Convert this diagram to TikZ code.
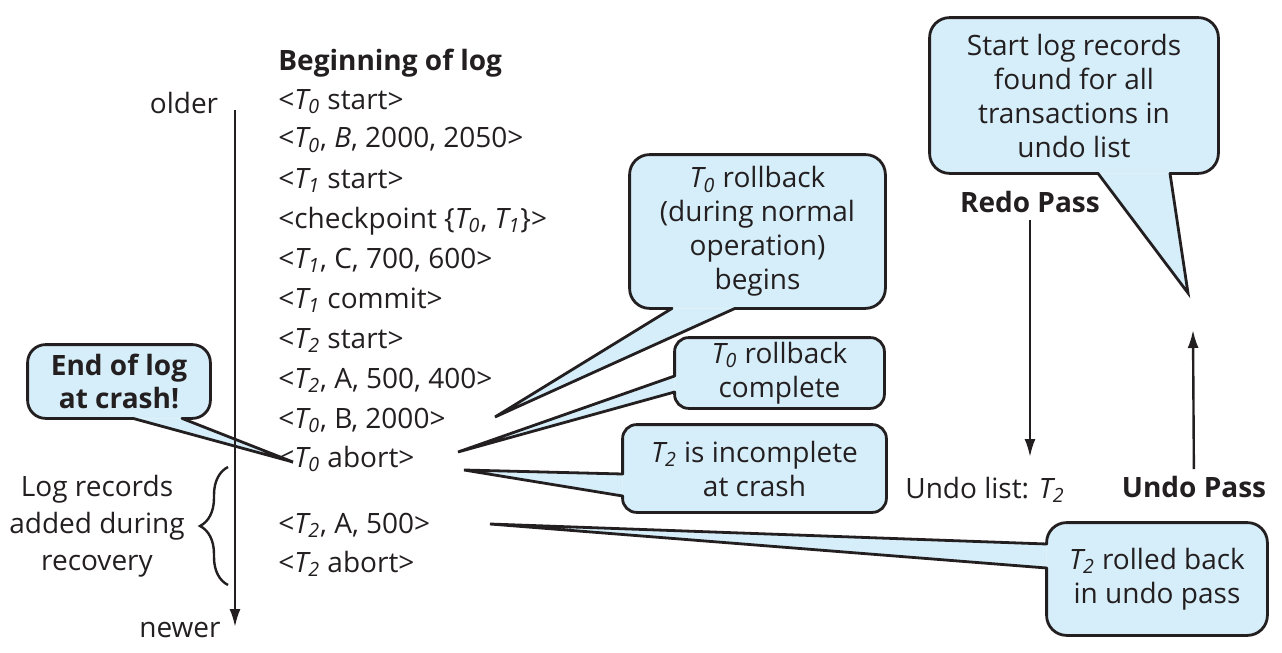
\documentclass[tikz,border=0pt]{standalone}
\usepackage{fontspec}
\setmainfont{Open Sans}
\usepackage{tikz}
\definecolor{inkgray}{RGB}{35,31,32}
\definecolor{bubblefill}{RGB}{214,238,249}
\usetikzlibrary{arrows, arrows.meta, backgrounds, decorations.pathreplacing}
\newcommand{\Tn}[1]{\textit{T\textsubscript{#1}}}

\begin{document}
\begin{tikzpicture}[x=0.5pt, y=-0.5pt, >={Latex[length=9pt, width=5.5pt]}, color=inkgray,   %pixel units, y downwards
	font=\fontsize{14}{17}\selectfont,
	logline/.style={anchor=base west, inner sep=0pt},
	bubbletext/.style={align=center, inner sep=0pt},
	bubble/.style={draw=inkgray, fill=bubblefill, line width=1.4pt, line cap=round},
	flow/.style={->, line width=1.2pt}]
	\useasboundingbox (0,0) rectangle (1282,653);
	% the log
	\node[logline, font=\fontsize{14}{17}\selectfont\bfseries] (head) at (278,70) {Beginning of log};
	\node[logline] (l1) at (278,109) {<\Tn{0} start>};
	\node[logline] (l2) at (278,148) {<\Tn{0}, \textit{B}, 2000, 2050>};
	\node[logline] (l3) at (278,188) {<\Tn{1} start>};
	\node[logline] (l4) at (278,228) {<checkpoint \{\Tn{0}, \Tn{1}\}>};
	\node[logline] (l5) at (278,268) {<\Tn{1}, C, 700, 600>};
	\node[logline] (l6) at (278,308) {<\Tn{1} commit>};
	\node[logline] (l7) at (278,348) {<\Tn{2} start>};
	\node[logline] (l8) at (278,388) {<\Tn{2}, A, 500, 400>};
	\node[logline] (l9) at (278,428) {<\Tn{0}, B, 2000>};
	\node[logline] (l10) at (278,467) {<\Tn{0} abort>};
	\node[logline] (l11) at (278,533) {<\Tn{2}, A, 500>};
	\node[logline] (l12) at (278,572) {<\Tn{2} abort>};
	% time line
	\node (older) at (184,103) {older};
	\node (newer) at (180,630) {newer};
	\coordinate (tl0) at (235,110);
	\coordinate (tl1) at (235,627);
	\draw[flow] (tl0) -- (tl1);
	\draw[line width=1.2pt, decorate, decoration={brace, amplitude=14pt}] (228,585) -- (228,467);
	\node[align=center, font=\fontsize{14}{18.5}\selectfont] (recov) at (97,526) {Log records\\added during\\recovery};
	% callouts
	\node[bubbletext, font=\fontsize{14}{16.5}\selectfont\bfseries, minimum width=91pt, minimum height=36.5pt] (c0) at (119,381.5) {End of log\\at crash!};
	\node[bubbletext, minimum width=127.5pt, minimum height=76.5pt] (c1) at (757.5,231.5) {\Tn{0} rollback\\(during normal\\operation)\\begins};
	\node[bubbletext, minimum width=104.5pt, minimum height=35pt] (c2) at (779.5,373) {\Tn{0} rollback\\complete};
	\node[bubbletext, minimum width=131.5pt, minimum height=43.5pt] (c3) at (754.5,468.5) {\Tn{2} is incomplete\\at crash};
	\node[bubbletext, minimum width=110pt, minimum height=56pt] (c4) at (1157,579) {\Tn{2} rolled back\\in undo pass};
	\node[bubbletext, minimum width=144pt, minimum height=77.5pt] (c5) at (1074,95.5) {Start log records\\found for all\\transactions in\\undo list};
	\coordinate (t0) at (293,462);
	\coordinate (t1) at (495,417);
	\coordinate (t2) at (458,452);
	\coordinate (t3) at (464,470);
	\coordinate (t4) at (490,524);
	\coordinate (t5) at (1188,293);
	\begin{pgfonlayer}{background}
		\draw[bubble] (133,0 |- c0.south) [rounded corners=9pt] -- (c0.south west) -- (c0.north west) -- (c0.north east) -- (c0.south east) -- (182,0 |- c0.south);
		\draw[bubble] (182,0 |- c0.south) -- (t0) -- (133,0 |- c0.south);
		\draw[bubble] (672,0 |- c1.south) [rounded corners=10pt] -- (c1.south west) -- (c1.north west) -- (c1.north east) -- (c1.south east) -- (735,0 |- c1.south);
		\draw[bubble] (735,0 |- c1.south) -- (t1) -- (672,0 |- c1.south);
		\draw[bubble] (c2.west |- 0,376) [rounded corners=7pt] -- (c2.north west) -- (c2.north east) -- (c2.south east) -- (c2.south west) -- (c2.west |- 0,392);
		\draw[bubble] (c2.west |- 0,392) -- (t2) -- (c2.west |- 0,376);
		\draw[bubble] (c3.west |- 0,474) [rounded corners=7pt] -- (c3.north west) -- (c3.north east) -- (c3.south east) -- (c3.south west) -- (c3.west |- 0,496);
		\draw[bubble] (c3.west |- 0,496) -- (t3) -- (c3.west |- 0,474);
		\draw[bubble] (c4.west |- 0,544) [rounded corners=10pt] -- (c4.north west) -- (c4.north east) -- (c4.south east) -- (c4.south west) -- (c4.west |- 0,568);
		\draw[bubble] (c4.west |- 0,568) -- (t4) -- (c4.west |- 0,544);
		\draw[bubble] (1098,0 |- c5.south) [rounded corners=10pt] -- (c5.south west) -- (c5.north west) -- (c5.north east) -- (c5.south east) -- (1170,0 |- c5.south);
		\draw[bubble] (1170,0 |- c5.south) -- (t5) -- (1098,0 |- c5.south);
	\end{pgfonlayer}
	% recovery passes
	\node[font=\fontsize{14}{17}\selectfont\bfseries] (redo) at (1030,202) {Redo Pass};
	\node (ulist) at (985,490) {Undo list: \Tn{2}};
	\node[font=\fontsize{14}{17}\selectfont\bfseries] (upass) at (1194,487) {Undo Pass};
	\coordinate (rbot) at (1030,457);
	\coordinate (utop) at (1193,330);
	\draw[flow] (redo) -- (rbot);
	\draw[flow] (upass) -- (utop);
\end{tikzpicture}
\end{document}
